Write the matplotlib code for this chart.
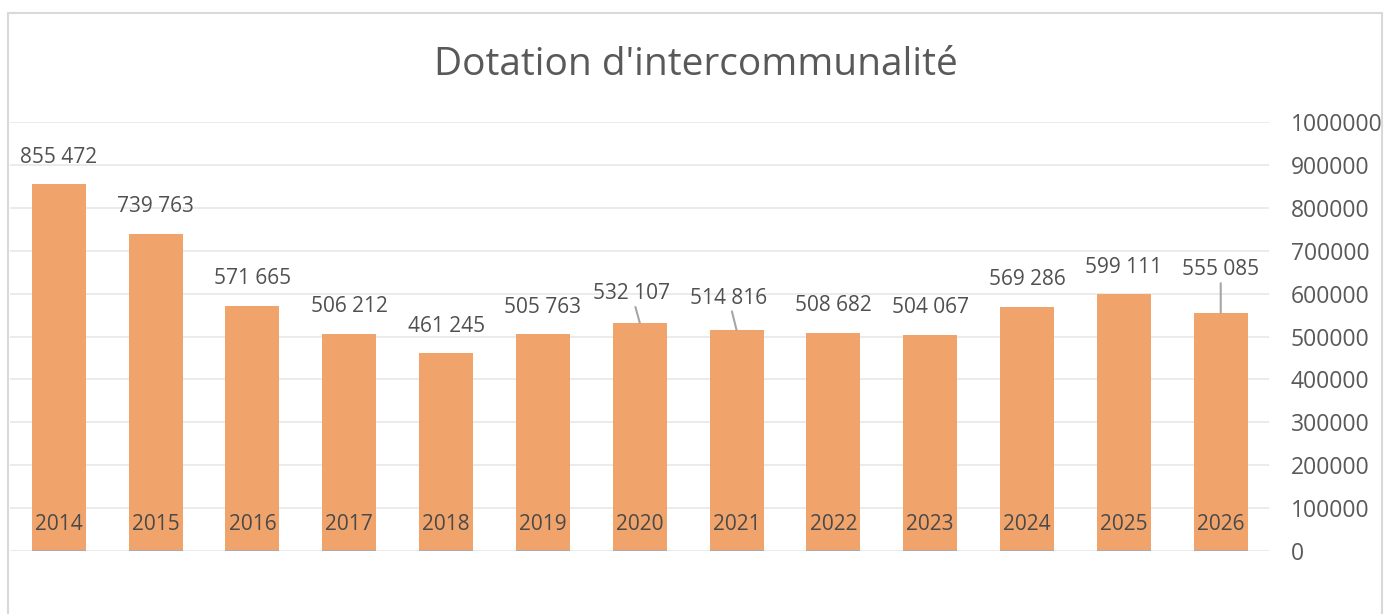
import numpy as np
import matplotlib
matplotlib.use('Agg')
import matplotlib.pyplot as plt
from matplotlib.patches import Rectangle

plt.rcParams['font.family'] = ['Open Sans', 'DejaVu Sans']

# data
years = ['2014', '2015', '2016', '2017', '2018', '2019', '2020',
         '2021', '2022', '2023', '2024', '2025', '2026']
values = [855472, 739763, 571665, 506212, 461245, 505763, 532107,
          514816, 508682, 504067, 569286, 599111, 555085]
title = "Dotation d'intercommunalité"

# labels that were pushed up and get a leader line (offsets in pixels)
leader_offsets = {'2020': (-8, 29), '2021': (-8, 32), '2026': (0, 43)}

bar_col = '#F0A46C'
txt_col = '#505050'
grid_col = '#EBEBEB'

fig = plt.figure(figsize=(13.84, 6.14), dpi=100)
ax = fig.add_axes([0.00751, 0.1034, 0.9095, 0.6971])

x = np.arange(len(years))
w = 0.557
ax.bar(x, values, width=w, color=bar_col, zorder=2)
ax.hlines(np.zeros(len(x)), x - w / 2, x + w / 2, color='#A3A9B8', lw=1.3, zorder=3)

for i, (yr, v) in enumerate(zip(years, values)):
    lab = f"{v:,}".replace(',', ' ')
    if yr in leader_offsets:
        ax.annotate(lab, xy=(i, v), xytext=leader_offsets[yr], textcoords='offset pixels',
                    ha='center', va='center', fontsize=15, color=txt_col,
                    arrowprops=dict(arrowstyle='-', color='#A6A6A6', lw=1.5,
                                    shrinkA=0, shrinkB=0))
    else:
        ax.annotate(lab, xy=(i, v), xytext=(0, 27), textcoords='offset pixels',
                    ha='center', va='center', fontsize=15, color=txt_col)
    # category label sits inside the bar
    ax.annotate(yr, xy=(i, 0), xytext=(0, 26), textcoords='offset pixels',
                ha='center', va='center', fontsize=15, color='#4A4A4A', zorder=4)

ax.set_xlim(-0.5, len(years) - 0.5)
ax.set_ylim(0, 1000000)
ax.set_yticks(np.arange(0, 1000001, 100000))
ax.set_yticklabels([str(t) for t in np.arange(0, 1000001, 100000)])
ax.yaxis.tick_right()
ax.tick_params(axis='y', length=0, pad=15.5, labelsize=16.5, labelcolor='#595959')
ax.set_xticks([])
ax.yaxis.grid(True, color=grid_col, lw=1.4, zorder=0)
ax.set_axisbelow(True)
for s in ax.spines.values():
    s.set_visible(False)

fig.text(0.503, (614 - 75) / 614, title, ha='center', va='baseline',
         fontsize=28, color='#595959')

# chart frame
fig.add_artist(Rectangle((8 / 1384, -0.1), (1382 - 8) / 1384, 0.1 + (614 - 12.5) / 614,
                         transform=fig.transFigure, fill=False,
                         edgecolor='#D9D9D9', lw=1.5, clip_on=False))

plt.savefig('out.png', dpi=100)
